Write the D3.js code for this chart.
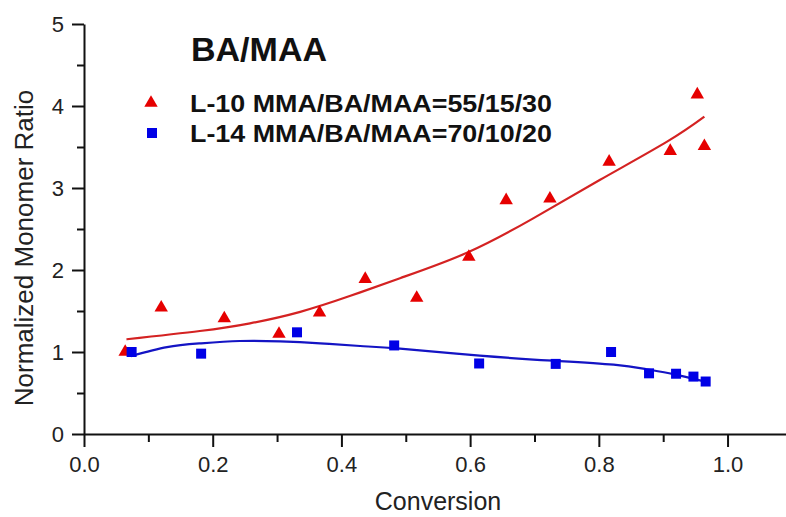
<!DOCTYPE html>
<html>
<head>
<meta charset="utf-8">
<script src="https://cdn.jsdelivr.net/npm/d3@7"></script>
<style>
  body { margin: 0; background: #fff; }
  text { font-family: "Liberation Sans", Arial, sans-serif; fill: #111; }
  .axis path, .axis line { stroke: #111; stroke-width: 2px; }
  .axis text { font-size: 22px; fill: #222; }
</style>
</head>
<body>
<div id="chart"></div>
<script>
// L-10 measured points (red triangles)
var l10X = [0.064, 0.120, 0.218, 0.303, 0.366, 0.437, 0.517, 0.598, 0.656, 0.724, 0.816, 0.911, 0.953, 0.964];
var l10Y = [1.00, 1.54, 1.41, 1.22, 1.48, 1.89, 1.66, 2.16, 2.85, 2.87, 3.32, 3.45, 4.14, 3.51];

// L-14 measured points (blue squares)
var l14X = [0.074, 0.182, 0.331, 0.482, 0.614, 0.733, 0.819, 0.878, 0.920, 0.947, 0.966];
var l14Y = [1.00, 0.98, 1.24, 1.08, 0.86, 0.855, 1.00, 0.74, 0.735, 0.70, 0.64];

// fitted curves
var l10FitX = [0.066, 0.180, 0.258, 0.336, 0.414, 0.491, 0.595, 0.698, 0.802, 0.906, 0.964];
var l10FitY = [1.155, 1.256, 1.35, 1.49, 1.685, 1.90, 2.21, 2.63, 3.10, 3.565, 3.87];
var l14FitX = [0.073, 0.129, 0.180, 0.242, 0.305, 0.367, 0.429, 0.491, 0.615, 0.729, 0.823, 0.874, 0.916, 0.962];
var l14FitY = [0.95, 1.06, 1.105, 1.134, 1.13, 1.106, 1.073, 1.04, 0.955, 0.894, 0.845, 0.79, 0.73, 0.645];

var xTicks = [0, 0.2, 0.4, 0.6, 0.8, 1.0];
var xMinor = [0.1, 0.3, 0.5, 0.7, 0.9];
var yTicks = [0, 1, 2, 3, 4, 5];
var yMinor = [0.5, 1.5, 2.5, 3.5, 4.5];

var legendLabels = ["L-10 MMA/BA/MAA=55/15/30", "L-14 MMA/BA/MAA=70/10/20"];

var width = 786, height = 517;
var red = "#e60000", redLine = "#d42222";
var blue = "#0000e6", blueLine = "#1414c4";

var svg = d3.select("#chart").append("svg")
  .attr("width", width)
  .attr("height", height);

var x = d3.scaleLinear().domain([0, 1.1]).range([84, 791.9]);
var y = d3.scaleLinear().domain([0, 5]).range([434, 24]);

// x axis
svg.append("g")
  .attr("class", "axis")
  .attr("transform", "translate(0,434)")
  .call(d3.axisBottom(x).tickValues(xTicks).tickFormat(d3.format(".1f"))
    .tickSize(13).tickSizeOuter(0).tickPadding(9));

svg.append("g")
  .attr("class", "axis")
  .attr("transform", "translate(0,434)")
  .call(d3.axisBottom(x).tickValues(xMinor).tickFormat("").tickSize(8).tickSizeOuter(0))
  .select(".domain").remove();

// y axis
svg.append("g")
  .attr("class", "axis")
  .attr("transform", "translate(84,0)")
  .call(d3.axisLeft(y).tickValues(yTicks).tickFormat(d3.format("d"))
    .tickSize(12).tickSizeOuter(0).tickPadding(8));

svg.append("g")
  .attr("class", "axis")
  .attr("transform", "translate(84,0)")
  .call(d3.axisLeft(y).tickValues(yMinor).tickFormat("").tickSize(7).tickSizeOuter(0))
  .select(".domain").remove();

// axis titles
svg.append("text")
  .attr("x", 438)
  .attr("y", 510)
  .attr("text-anchor", "middle")
  .style("font-size", "25px")
  .style("fill", "#222")
  .text("Conversion");

svg.append("text")
  .attr("transform", "translate(33,248) rotate(-90)")
  .attr("text-anchor", "middle")
  .style("font-size", "26px")
  .style("fill", "#222")
  .text("Normalized Monomer Ratio");

// fit curves
var line = d3.line()
  .x(function(d) { return x(d[0]); })
  .y(function(d) { return y(d[1]); })
  .curve(d3.curveNatural);

svg.append("path")
  .datum(d3.zip(l10FitX, l10FitY))
  .attr("d", line)
  .attr("fill", "none")
  .attr("stroke", redLine)
  .attr("stroke-width", 2.2);

svg.append("path")
  .datum(d3.zip(l14FitX, l14FitY))
  .attr("d", line)
  .attr("fill", "none")
  .attr("stroke", blueLine)
  .attr("stroke-width", 2.2);

// markers
var triangle = d3.symbol().type(d3.symbolTriangle).size(78);

svg.append("g")
  .selectAll("path")
  .data(d3.zip(l10X, l10Y))
  .enter()
  .append("path")
  .attr("d", triangle)
  .attr("transform", function(d) { return "translate(" + x(d[0]) + "," + y(d[1]) + ")"; })
  .attr("fill", red);

svg.append("g")
  .selectAll("rect")
  .data(d3.zip(l14X, l14Y))
  .enter()
  .append("rect")
  .attr("x", function(d) { return x(d[0]) - 5; })
  .attr("y", function(d) { return y(d[1]) - 5; })
  .attr("width", 10)
  .attr("height", 10)
  .attr("fill", blue);

// title and legend
svg.append("text")
  .attr("x", 191)
  .attr("y", 61)
  .style("font-size", "34px")
  .style("font-weight", "bold")
  .text("BA/MAA");

var legend = svg.append("g");

legend.append("path")
  .attr("d", triangle)
  .attr("transform", "translate(151,103)")
  .attr("fill", red);

legend.append("rect")
  .attr("x", 147)
  .attr("y", 128)
  .attr("width", 10)
  .attr("height", 10)
  .attr("fill", blue);

legend.selectAll(".legend-label")
  .data(legendLabels)
  .enter()
  .append("text")
  .attr("class", "legend-label")
  .attr("x", 190)
  .attr("y", function(d, i) { return 112 + i * 30; })
  .attr("textLength", 362)
  .attr("lengthAdjust", "spacingAndGlyphs")
  .style("font-size", "24px")
  .style("font-weight", "bold")
  .text(function(d) { return d; });
</script>
</body>
</html>
